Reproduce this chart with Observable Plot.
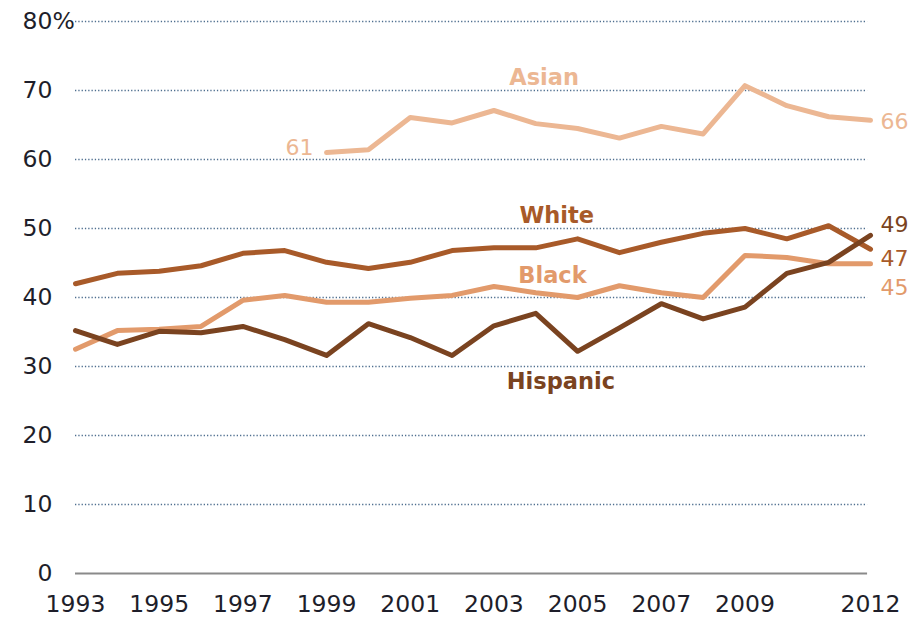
<!DOCTYPE html>
<html>
<head>
<meta charset="utf-8">
<script src="https://cdn.jsdelivr.net/npm/d3@7"></script>
<script src="https://cdn.jsdelivr.net/npm/@observablehq/plot@0.6"></script>
<style>
  html, body { margin: 0; padding: 0; background: #fff; }
  #chart svg { display: block; }
</style>
</head>
<body>
<div id="chart"></div>
<script>
const years    = [1993,1994,1995,1996,1997,1998,1999,2000,2001,2002,2003,2004,2005,2006,2007,2008,2009,2010,2011,2012];
const white    = [42.0,43.5,43.8,44.6,46.4,46.8,45.1,44.2,45.1,46.8,47.2,47.2,48.5,46.5,48.0,49.3,50.0,48.5,50.4,47.0];
const black    = [32.5,35.2,35.4,35.8,39.6,40.3,39.3,39.3,39.9,40.3,41.6,40.7,40.0,41.7,40.7,40.0,46.1,45.8,44.9,44.9];
const hispanic = [35.2,33.2,35.1,34.9,35.8,33.9,31.6,36.2,34.2,31.6,35.9,37.7,32.2,35.6,39.1,36.9,38.6,43.5,45.1,49.0];
const asian    = [null,null,null,null,null,null,61.0,61.4,66.1,65.3,67.1,65.2,64.5,63.1,64.8,63.7,70.7,67.8,66.2,65.7];

const seriesNames  = ["Asian","Black","White","Hispanic"];
const seriesColors = ["#ecb793","#e29a6b","#a85a29","#7a4320"];
const seriesValues = [asian, black, white, hispanic];

const yTicks = [0,10,20,30,40,50,60,70,80];
const xTicks = [1993,1995,1997,1999,2001,2003,2005,2007,2009,2012];

// series name labels (year, value)
const labelYear  = [2004.2, 2004.4, 2004.5, 2004.6];
const labelValue = [71.9, 43.2, 51.9, 27.8];
// end labels
const endText = ["66","45","47","49"];
const endDy   = [2, 24, 10, -10];

const data = [];
seriesNames.forEach((s, i) => years.forEach((yr, j) => {
  const v = seriesValues[i][j];
  if (v != null) data.push({series: s, year: yr, value: v});
}));

const col = s => seriesColors[seriesNames.indexOf(s)];

const labels = seriesNames.map((s, i) => ({series: s, year: labelYear[i], value: labelValue[i]}));
const ends = seriesNames.map((s, i) => ({series: s, year: 2012, value: seriesValues[i][years.length - 1], text: endText[i], dy: endDy[i]}));

const font = "DejaVu Sans, Verdana, sans-serif";

const chart = Plot.plot({
  width: 920,
  height: 618,
  marginLeft: 75,
  marginRight: 50,
  marginTop: 21,
  marginBottom: 45,
  style: {fontFamily: font, background: "#fff", overflow: "visible"},
  x: {domain: [1993, 2012], axis: null},
  y: {domain: [0, 80], axis: null},
  marks: [
    Plot.ruleY(yTicks.filter(d => d > 0), {stroke: "#4f6f8f", strokeWidth: 1.5, strokeDasharray: "1.3,2", x1: 1993, x2: 2011.93}),
    Plot.ruleY([0], {stroke: "#8a8a8a", strokeWidth: 2, x1: 1993, x2: 2011.93}),
    Plot.axisY({ticks: yTicks, tickSize: 0, tickPadding: 23, fontSize: 23.5, tickFormat: d => String(d), label: null, color: "#1e1e2a"}),
    Plot.text([80], {y: d => d, frameAnchor: "left", dx: -23, textAnchor: "start", text: () => "%", fontSize: 23.5, fill: "#1e1e2a"}),
    Plot.axisX({ticks: xTicks, tickSize: 0, tickPadding: 22, fontSize: 23.5, tickFormat: d => String(d), label: null, color: "#1e1e2a"}),
    ...seriesNames.map(s => Plot.line(data.filter(d => d.series === s), {x: "year", y: "value", stroke: col(s), strokeWidth: 5, strokeLinejoin: "round"})),
    Plot.text(labels, {x: "year", y: "value", text: "series", fill: d => col(d.series), fontWeight: "bold", fontSize: 22.5}),
    ...ends.map(e => Plot.text([e], {x: "year", y: "value", text: "text", fill: col(e.series), fontSize: 22, textAnchor: "start", dx: 10, dy: e.dy})),
    Plot.text([{year: 1999, value: asian[6]}], {x: "year", y: "value", text: d => String(Math.round(d.value)), fill: col("Asian"), fontSize: 22, textAnchor: "end", dx: -13, dy: -5})
  ]
});
document.getElementById("chart").appendChild(chart);
</script>
</body>
</html>
